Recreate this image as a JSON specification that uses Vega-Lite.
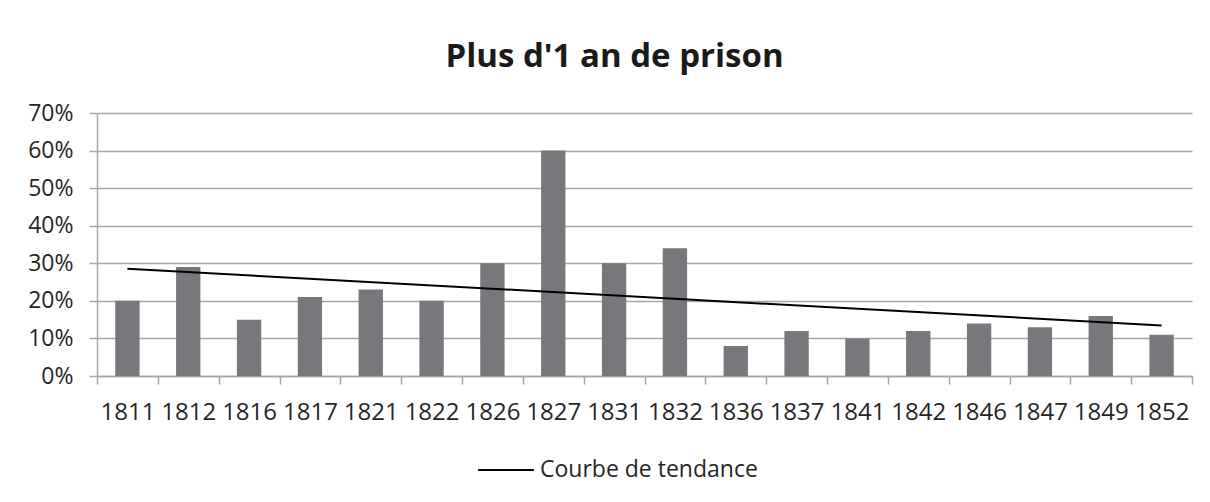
{
  "$schema": "https://vega.github.io/schema/vega-lite/v6.json",
  "autosize": {"type": "none"},
  "width": 1095,
  "height": 263,
  "padding": {"left": 97, "top": 113, "right": 18, "bottom": 126},
  "background": "white",
  "title": {
    "text": "Plus d'1 an de prison",
    "font": "Open Sans",
    "fontSize": 33,
    "fontWeight": "bold",
    "color": "#1a1a1a",
    "anchor": "middle",
    "baseline": "alphabetic",
    "offset": 2,
    "dx": -30
  },
  "datasets": {
    "barres": [
      {"annee": "1811", "part": 0.20},
      {"annee": "1812", "part": 0.29},
      {"annee": "1816", "part": 0.15},
      {"annee": "1817", "part": 0.21},
      {"annee": "1821", "part": 0.23},
      {"annee": "1822", "part": 0.20},
      {"annee": "1826", "part": 0.30},
      {"annee": "1827", "part": 0.60},
      {"annee": "1831", "part": 0.30},
      {"annee": "1832", "part": 0.34},
      {"annee": "1836", "part": 0.08},
      {"annee": "1837", "part": 0.12},
      {"annee": "1841", "part": 0.10},
      {"annee": "1842", "part": 0.12},
      {"annee": "1846", "part": 0.14},
      {"annee": "1847", "part": 0.13},
      {"annee": "1849", "part": 0.16},
      {"annee": "1852", "part": 0.11}
    ],
    "tendance": [
      {"annee": "1811", "part": 0.2856},
      {"annee": "1852", "part": 0.1344}
    ]
  },
  "layer": [
    {
      "data": {"name": "barres"},
      "mark": {"type": "bar", "color": "#77787b", "width": {"band": 0.4}},
      "encoding": {
        "x": {
          "field": "annee",
          "type": "ordinal",
          "sort": null,
          "scale": {"paddingInner": 0, "paddingOuter": 0},
          "axis": {
            "title": null,
            "labelAngle": 0,
            "labelFontSize": 24,
            "tickBand": "extent",
            "grid": false
          }
        },
        "y": {
          "field": "part",
          "type": "quantitative",
          "scale": {"domain": [0, 0.7], "nice": false},
          "axis": {
            "title": null,
            "format": ".0%",
            "tickCount": 7,
            "labelOverlap": false,
            "labelFontSize": 23,
            "grid": true
          }
        }
      }
    },
    {
      "data": {"name": "tendance"},
      "mark": {"type": "line", "strokeWidth": 2},
      "encoding": {
        "x": {"field": "annee", "type": "ordinal", "sort": null},
        "y": {"field": "part", "type": "quantitative"},
        "stroke": {
          "datum": "Courbe de tendance",
          "type": "nominal",
          "scale": {"range": ["#000000"]},
          "legend": {
            "title": null,
            "orient": "none",
            "legendX": 380,
            "legendY": 328,
            "direction": "horizontal",
            "symbolType": "stroke",
            "symbolSize": 3100,
            "symbolStrokeWidth": 2,
            "labelOffset": 5
          }
        }
      }
    }
  ],
  "config": {
    "view": {"stroke": null},
    "axis": {
      "labelFont": "Open Sans",
      "labelFontSize": 22,
      "labelColor": "#262626",
      "domainColor": "#a6a6a6",
      "domainWidth": 1.5,
      "tickColor": "#a6a6a6",
      "tickWidth": 1.5,
      "tickSize": 8,
      "labelPadding": 16,
      "gridColor": "#a6a6a6",
      "gridWidth": 1.5
    },
    "legend": {
      "labelFont": "Open Sans",
      "labelFontSize": 23,
      "labelColor": "#262626",
      "labelLimit": 400
    }
  }
}
